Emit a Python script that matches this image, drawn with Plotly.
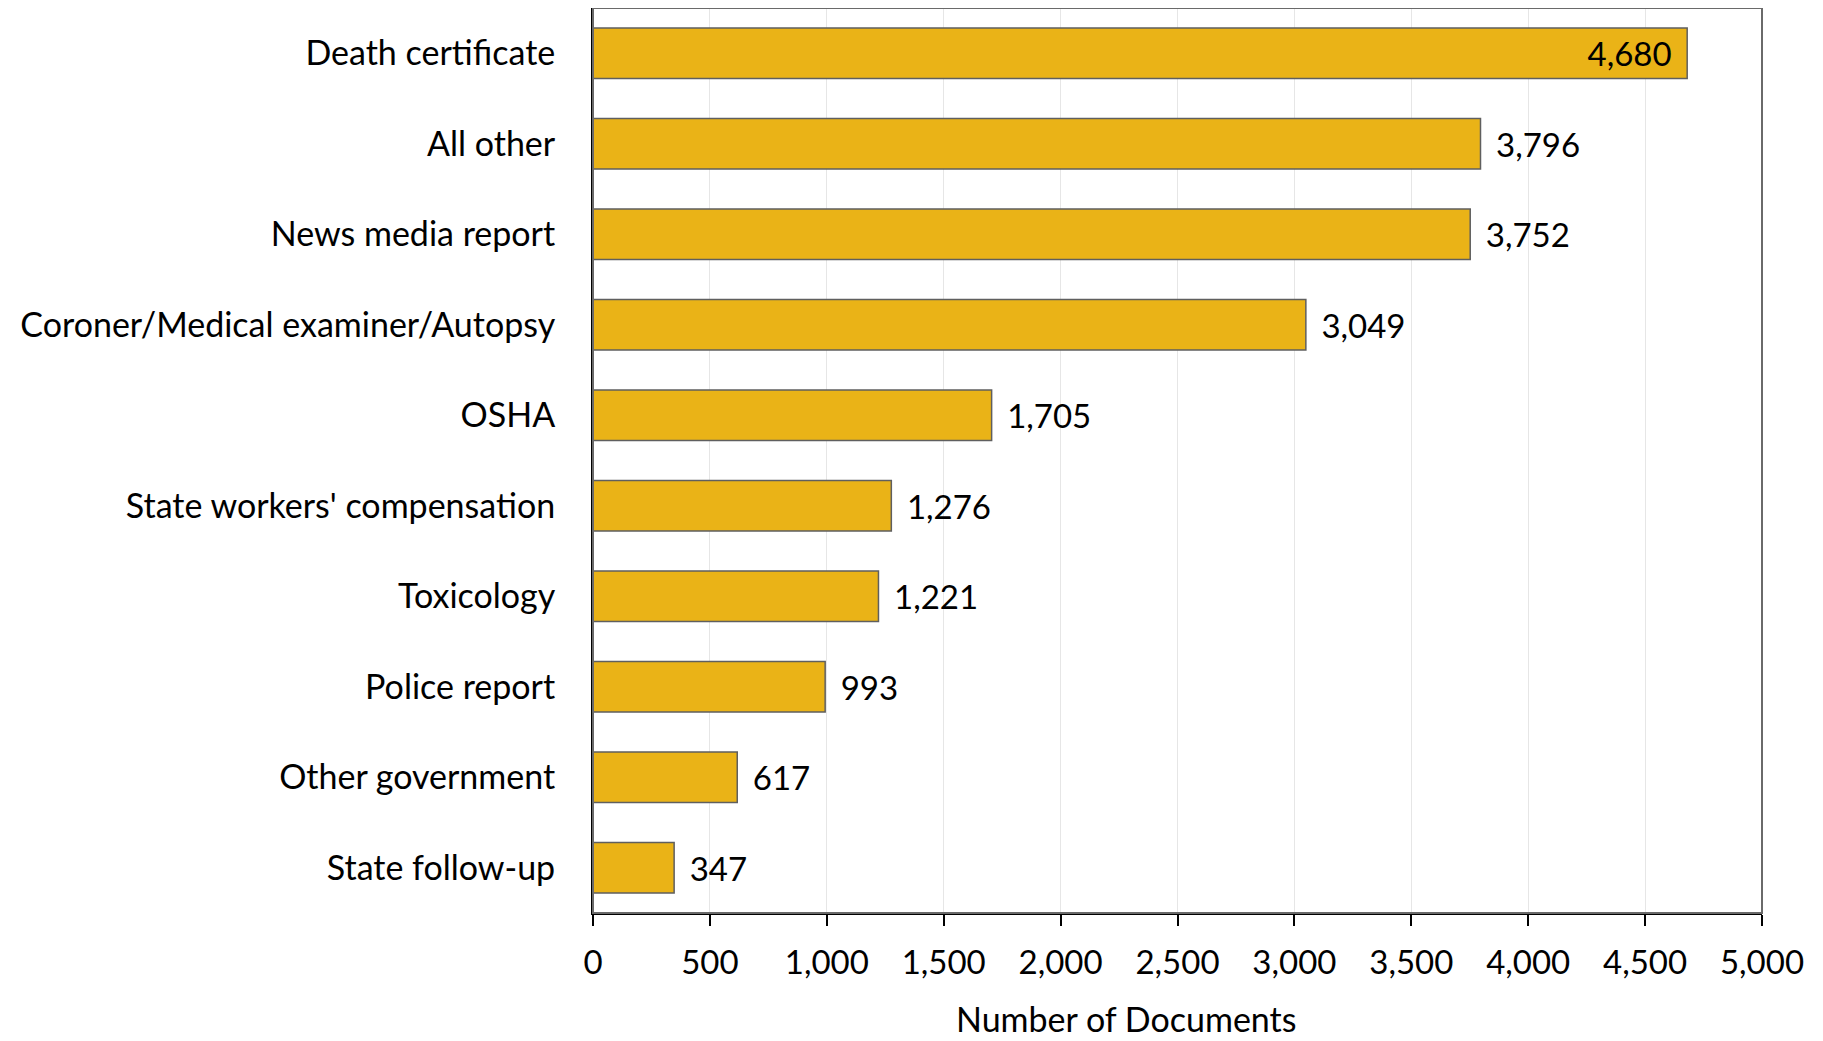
import plotly.graph_objects as go

categories = ["Death certificate", "All other", "News media report",
              "Coroner/Medical examiner/Autopsy", "OSHA",
              "State workers' compensation", "Toxicology", "Police report",
              "Other government", "State follow-up"]
values = [4680, 3796, 3752, 3049, 1705, 1276, 1221, 993, 617, 347]
tick_vals = [0, 500, 1000, 1500, 2000, 2500, 3000, 3500, 4000, 4500, 5000]
tick_text = ["0", "500", "1,000", "1,500", "2,000", "2,500", "3,000",
             "3,500", "4,000", "4,500", "5,000"]

FONT = "Lato, Carlito, Calibri, sans-serif"

positions = ["inside" if v == max(values) else "outside" for v in values]
labels = [f"{v:,}\u00a0\u2009" if p == "inside" else f"\u00a0\u2009{v:,}"
          for v, p in zip(values, positions)]

fig = go.Figure(go.Bar(
    x=values, y=categories, orientation="h",
    marker=dict(color="#EAB317", line=dict(color="#5f5f5f", width=1.5)),
    width=0.56,
    text=labels, textposition=positions, insidetextanchor="end",
    textfont=dict(family=FONT, size=33, color="black"),
    cliponaxis=False,
))

fig.update_layout(
    width=1815, height=1033,
    margin=dict(l=585, r=61, t=0, b=128),
    paper_bgcolor="white", plot_bgcolor="white",
    showlegend=False,
    font=dict(family=FONT, size=33, color="black"),
    xaxis=dict(range=[0, 5000], tickvals=tick_vals, ticktext=tick_text,
               showgrid=True, gridcolor="#E6E6E6", gridwidth=1,
               showline=True, linecolor="black", linewidth=2,
               ticks="outside", ticklen=11, tickwidth=2, tickcolor="black",
               ticklabelstandoff=8, zeroline=False, automargin=False,
               tickfont=dict(family=FONT, size=33, color="black")),
    yaxis=dict(categoryorder="array", categoryarray=categories[::-1],
               showline=True, linecolor="black", linewidth=2,
               ticks="", ticklabelstandoff=29, automargin=False,
               tickfont=dict(family=FONT, size=34, color="black")),
    shapes=[dict(type="rect", xref="paper", yref="paper", x0=0, x1=1, y0=0, y1=1,
                 line=dict(color="#6a6a6a", width=2), layer="above")],
    annotations=[dict(text="Number of Documents", xref="paper", yref="paper",
                      x=0.456, y=-0.117, xanchor="center", yanchor="middle",
                      showarrow=False,
                      font=dict(family=FONT, size=34, color="black"))],
)

fig.write_html("out.html")
